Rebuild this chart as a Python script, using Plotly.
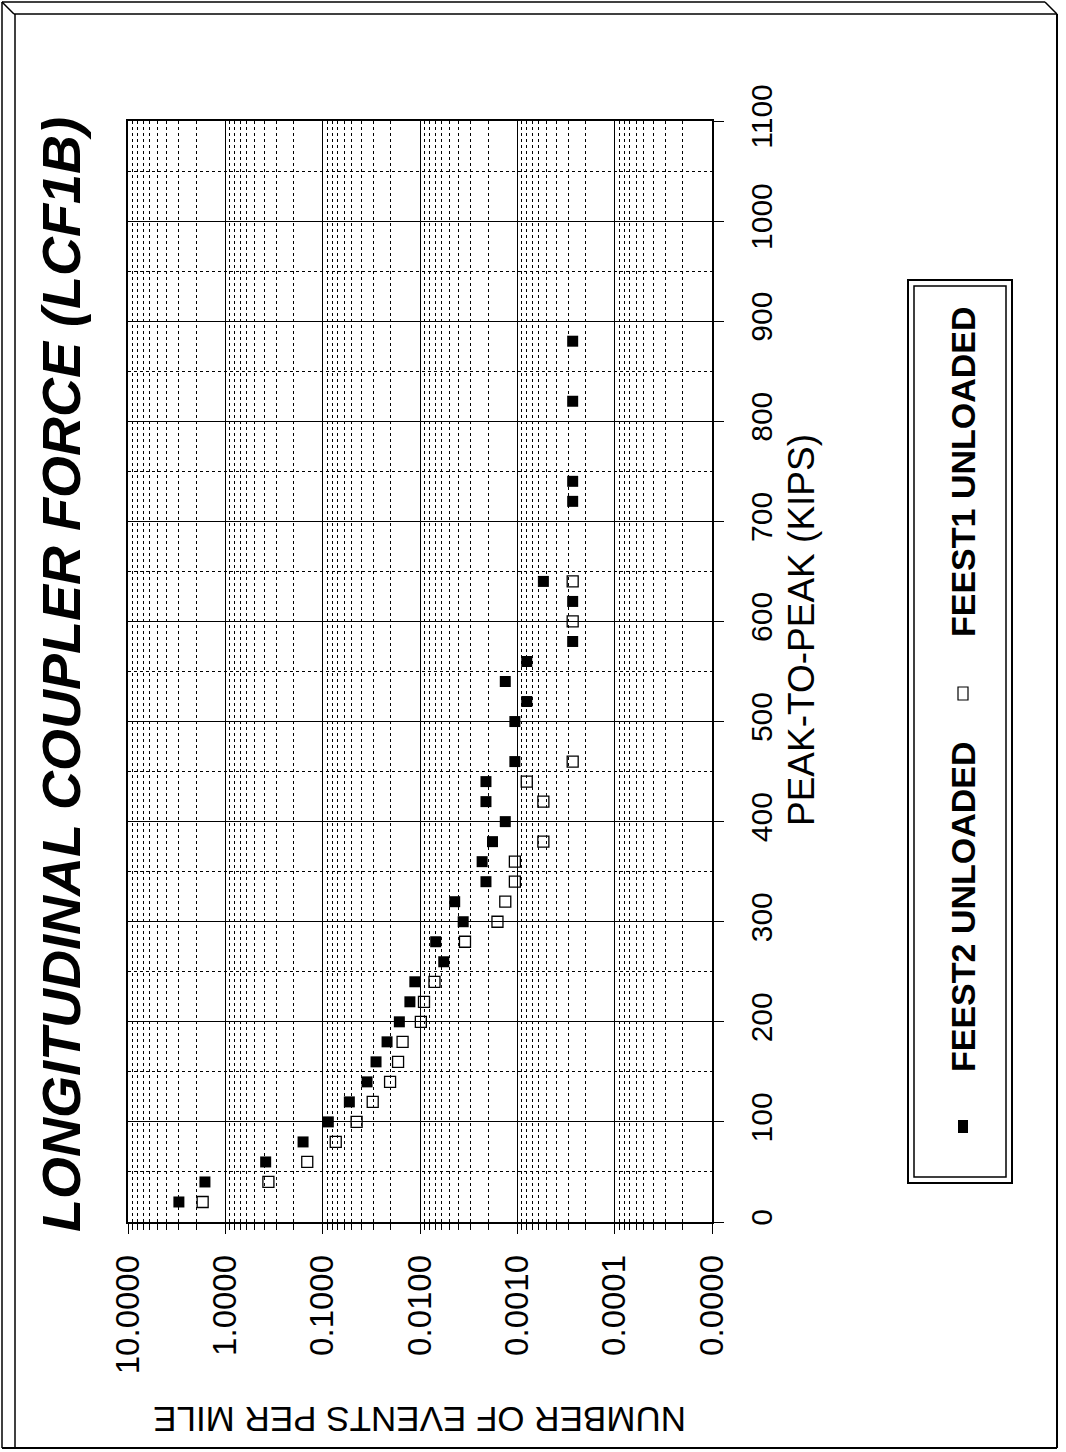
import plotly.graph_objects as go

# ---------------- data ----------------
kips_feest2 = [20, 40, 60, 80, 100, 120, 140, 160, 180, 200, 220, 240, 260, 280, 300,
               320, 340, 360, 380, 400, 420, 440, 460, 500, 520, 540, 560, 580, 620,
               640, 720, 740, 820, 880]
events_feest2 = [3.0, 1.62, 0.385, 0.159, 0.0875, 0.0532, 0.035, 0.0283, 0.0218, 0.0163,
                 0.0127, 0.0113, 0.0057, 0.0069, 0.0036, 0.0044, 0.0021, 0.0023, 0.0018,
                 0.00133, 0.0021, 0.0021, 0.00106, 0.00106, 0.0008, 0.00133, 0.0008,
                 0.00027, 0.00027, 0.00054, 0.00027, 0.00027, 0.00027, 0.00027]

kips_feest1 = [20, 40, 60, 80, 100, 120, 140, 160, 180, 200, 220, 240, 280, 300, 320,
               340, 360, 380, 420, 440, 460, 600, 640]
events_feest1 = [1.71, 0.361, 0.144, 0.0734, 0.0448, 0.0306, 0.0203, 0.0168, 0.0151,
                 0.0098, 0.0091, 0.0071, 0.00345, 0.0016, 0.00133, 0.00106, 0.00106,
                 0.00054, 0.00054, 0.0008, 0.00027, 0.00027, 0.00027]

event_tick_vals = [10, 1, 0.1, 0.01, 0.001, 0.0001, 0.00001]
event_tick_text = ["10.0000", "1.0000", "0.1000", "0.0100", "0.0010", "0.0001", "0.0000"]
kips_tick_vals = [0, 100, 200, 300, 400, 500, 600, 700, 800, 900, 1000, 1100]

series_names = ["FEEST2 UNLOADED", "FEEST1 UNLOADED"]
title_text = "LONGITUDINAL COUPLER FORCE (LCF1B)"
kips_title = "PEAK-TO-PEAK (KIPS)"
events_title = "NUMBER OF EVENTS PER MILE"

# ---------------- layout geometry ----------------
W, H = 1066, 1452
L, R, T, B = 128, 354, 121, 230
PW, PH = W - L - R, H - T - B
FONT = "Arial, Liberation Sans, Helvetica, sans-serif"


def px(x):
    return (x - L) / PW


def py(y):
    return (H - B - y) / PH


fig = go.Figure()
fig.add_trace(go.Scatter(
    x=events_feest2, y=kips_feest2, mode="markers", name=series_names[0],
    marker=dict(symbol="square", size=11, color="black", line=dict(width=0)),
    showlegend=False))
fig.add_trace(go.Scatter(
    x=events_feest1, y=kips_feest1, mode="markers", name=series_names[1],
    marker=dict(symbol="square-open", size=11, color="black", line=dict(width=1.3)),
    showlegend=False))

fig.update_xaxes(
    type="log", range=[1, -5],
    tickmode="array", tickvals=event_tick_vals, ticktext=event_tick_text,
    tickangle=-90, tickfont=dict(family=FONT, size=33, color="black"),
    ticks="outside", ticklen=10, tickcolor="black", tickwidth=1,
    ticklabelstandoff=8,
    showline=True, linecolor="black", linewidth=1.5, mirror=True,
    showgrid=True, gridcolor="black", gridwidth=1,
    minor=dict(dtick="D1", showgrid=True, gridcolor="black", gridwidth=1,
               griddash="dot", ticks="outside", ticklen=6, tickcolor="black"),
    zeroline=False)

fig.update_yaxes(
    range=[0, 1100], side="right",
    tickmode="array", tickvals=kips_tick_vals,
    tickangle=-90, tickfont=dict(family=FONT, size=30, color="black"),
    ticks="outside", ticklen=10, tickcolor="black",
    ticklabelstandoff=12,
    showline=True, linecolor="black", linewidth=1.5, mirror=True,
    showgrid=True, gridcolor="black", gridwidth=1,
    minor=dict(dtick=50, showgrid=True, gridcolor="black", gridwidth=1,
               griddash="dot"),
    zeroline=False)

annotations = [
    dict(text="<b><i>" + title_text + "</i></b>", textangle=-90,
         x=px(61), y=py(675), xref="paper", yref="paper",
         xanchor="center", yanchor="middle", showarrow=False,
         font=dict(family=FONT, size=54, color="black")),
    dict(text=kips_title, textangle=-90,
         x=px(801), y=py(630), xref="paper", yref="paper",
         xanchor="center", yanchor="middle", showarrow=False,
         font=dict(family=FONT, size=37, color="black")),
    dict(text=events_title, textangle=180,
         x=px(420), y=py(1420), xref="paper", yref="paper",
         xanchor="center", yanchor="middle", showarrow=False,
         font=dict(family=FONT, size=35, color="black")),
    dict(text="<b>" + series_names[0] + "</b>", textangle=-90,
         x=px(963), y=py(907), xref="paper", yref="paper",
         xanchor="center", yanchor="middle", showarrow=False,
         font=dict(family=FONT, size=34, color="black")),
    dict(text="<b>" + series_names[1] + "</b>", textangle=-90,
         x=px(963), y=py(472), xref="paper", yref="paper",
         xanchor="center", yanchor="middle", showarrow=False,
         font=dict(family=FONT, size=34, color="black")),
]

shapes = []


def line(x0, y0, x1, y1, w=1.5):
    shapes.append(dict(type="line", xref="paper", yref="paper",
                       x0=px(x0), y0=py(y0), x1=px(x1), y1=py(y1),
                       line=dict(color="black", width=w)))


def rect(x0, y0, x1, y1, w=1.5, fill="rgba(0,0,0,0)"):
    shapes.append(dict(type="rect", xref="paper", yref="paper",
                       x0=px(x0), y0=py(y1), x1=px(x1), y1=py(y0),
                       line=dict(color="black", width=w), fillcolor=fill))


# page frame (bevelled)
line(2, 2, 1045, 2)
line(2, 2, 14, 14)
line(14, 14, 1057, 14)
line(1045, 2, 1057, 14)
line(2, 2, 2, 1448)
line(15, 14, 15, 1448)
line(1057, 14, 1057, 1448, 2)
line(2, 1448, 1057, 1448, 2)

# legend box (double border)
rect(908, 280, 1012, 1183, 2)
rect(914, 286, 1006, 1177, 1.5)
# legend markers
rect(958, 1120, 968, 1133, 0, "black")
rect(958, 687, 968, 700, 1.2)

fig.update_layout(
    width=W, height=H,
    margin=dict(l=L, r=R, t=T, b=B, pad=0),
    paper_bgcolor="white", plot_bgcolor="white",
    annotations=annotations, shapes=shapes,
    showlegend=False,
    font=dict(family=FONT, color="black"),
)

fig.write_html("out.html", config={"displayModeBar": False},
               post_script="document.body.style.margin='0';")
